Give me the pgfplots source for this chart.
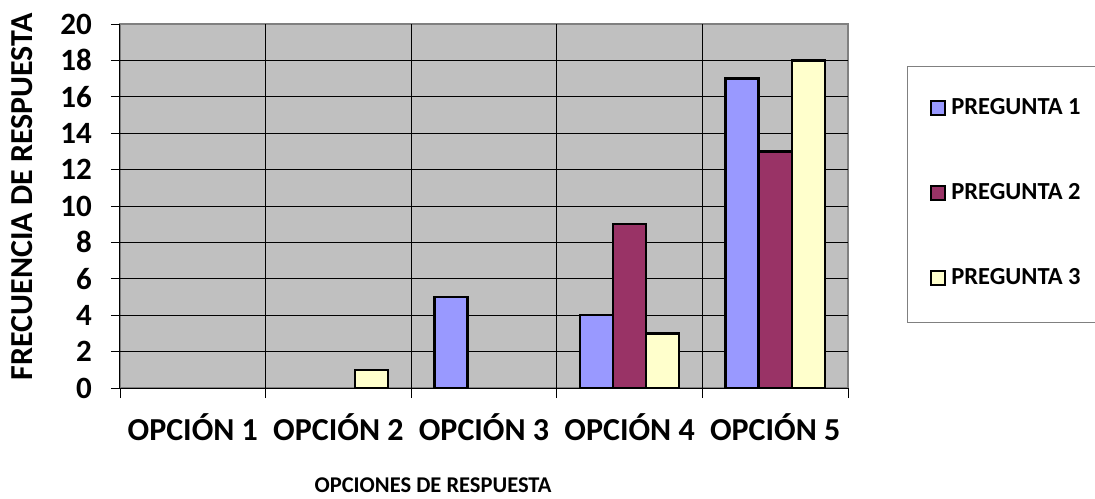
\documentclass[border=0pt]{standalone}
\usepackage{fontspec}
\setmainfont{Carlito}
\usepackage{pgfplots}
\pgfplotsset{compat=1.18}
\definecolor{bgray}{HTML}{C0C0C0}
\definecolor{bord}{HTML}{808080}
\definecolor{p1}{HTML}{9999FF}
\definecolor{p2}{HTML}{993366}
\definecolor{p3}{HTML}{FFFFCC}
\newcommand{\legtxt}[1]{\makebox[150pt][l]{#1}}
\begin{document}
\begin{tikzpicture}
\useasboundingbox (-120pt,-110pt) rectangle (975pt,388pt);
\begin{axis}[
  at={(0pt,0pt)}, anchor=south west,
  width=728pt, height=364pt, scale only axis,
  xmin=0.5, xmax=5.5, ymin=0, ymax=20,
  axis lines=left, axis line style={-, black, line width=1pt},
  axis background/.style={fill=bgray, draw=bord, line width=2pt},
  xtick={1,2,3,4,5},
  xticklabels={OPCIÓN 1,OPCIÓN 2,OPCIÓN 3,OPCIÓN 4,OPCIÓN 5},
  major x tick style={draw=none},
  minor xtick={1.5,2.5,3.5,4.5},
  extra x ticks={0.5,5.5}, extra x tick labels={,},
  extra x tick style={grid=none, major x tick style={draw=black, line width=0.8pt}, major tick length=10pt},
  xminorgrids, minor x grid style={black, line width=0.8pt},
  minor x tick style={black, line width=0.8pt}, minor tick length=10pt,
  ytick={0,2,...,18},
  extra y ticks={20}, extra y tick style={grid=none},
  ymajorgrids, major y grid style={black, line width=0.8pt},
  major y tick style={black, line width=0.8pt},
  tick align=outside, major tick length=9pt,
  /pgf/number format/assume math mode=true,
  yticklabel style={font=\fontsize{31}{31}\selectfont\bfseries, anchor=east, inner sep=0pt, xshift=-19pt},
  xticklabel style={font=\fontsize{32}{32}\selectfont\bfseries, anchor=base, inner sep=0pt, yshift=-43pt},
  xlabel={OPCIONES DE RESPUESTA},
  xlabel style={font=\fontsize{22.5}{22.5}\selectfont\bfseries, at={(axis description cs:0.43,0)}, anchor=base, inner sep=0pt, yshift=-104pt},
  ylabel={FRECUENCIA DE RESPUESTA},
  ylabel style={font=\fontsize{32}{32}\selectfont\bfseries, at={(axis description cs:-0.1346,0.525)}, anchor=center, inner sep=0pt},
  ybar=0pt, bar width=0.227,
  legend style={at={(axis description cs:1.081,0.885)}, anchor=north west,
    draw=bord, line width=0.8pt, inner xsep=23pt, inner ysep=34pt,
    row sep=67pt, column sep=5pt,
    nodes={inner sep=0pt, text height=14pt, text depth=4pt,
      font=\fontsize{24.5}{24.5}\selectfont\bfseries}},
  legend cell align=left,
  legend image code/.code={\draw[#1, line width=2pt] (0pt,-6pt) rectangle (14pt,8pt);},
]
\addplot[fill=p1, draw=black, line width=2.4pt] coordinates {(3,5) (4,4) (5,17)};
\addplot[fill=p2, draw=black, line width=2.4pt] coordinates {(4,9) (5,13)};
\addplot[fill=p3, draw=black, line width=2.4pt] coordinates {(2,1) (4,3) (5,18)};
\legend{\legtxt{PREGUNTA 1},\legtxt{PREGUNTA 2},\legtxt{PREGUNTA 3}}
\end{axis}
\end{tikzpicture}
\end{document}
